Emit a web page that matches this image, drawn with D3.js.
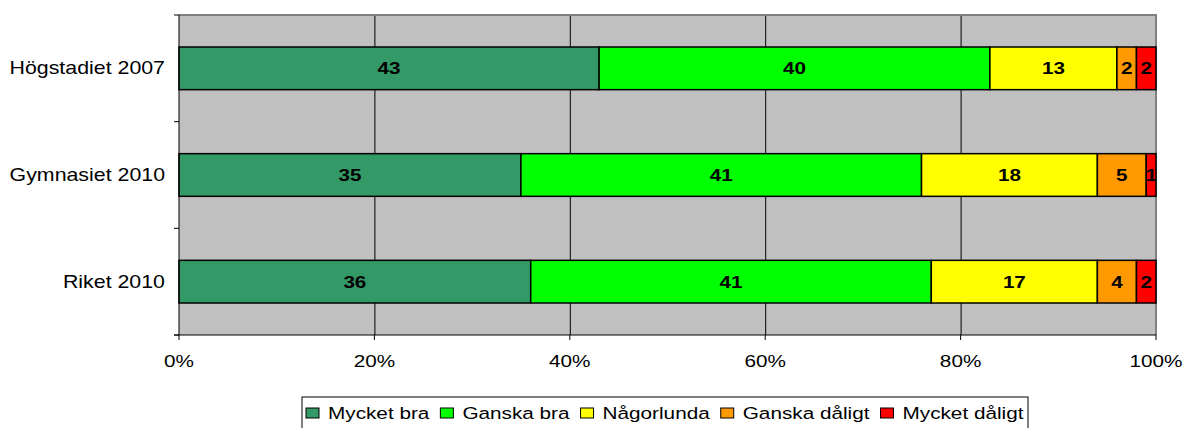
<!DOCTYPE html>
<html>
<head>
<meta charset="utf-8">
<script src="https://d3js.org/d3.v7.min.js"></script>
<style>
  body { margin: 0; background: #fff; }
  text { font-family: "Liberation Sans", Arial, sans-serif; }
</style>
</head>
<body>
<svg id="chart" width="1185" height="428"></svg>
<script>
const categories = ["Högstadiet 2007", "Gymnasiet 2010", "Riket 2010"];
const seriesNames = ["Mycket bra", "Ganska bra", "Någorlunda", "Ganska dåligt", "Mycket dåligt"];
const seriesColors = ["#339966", "#00ff00", "#ffff00", "#ff9900", "#ff0000"];
const mycketBra = [43, 35, 36];
const ganskaBra = [40, 41, 41];
const nagorlunda = [13, 18, 17];
const ganskaDaligt = [2, 5, 4];
const mycketDaligt = [2, 1, 2];
const xTicks = [0, 20, 40, 60, 80, 100];

const svg = d3.select("#chart");
const plotLeft = 179, plotRight = 1156, plotTop = 15, plotBottom = 335;
const sx = 1.22; // the original is stretched sideways

const x = d3.scaleLinear().domain([0, 100]).range([plotLeft, plotRight]);
const y = d3.scaleBand().domain(categories).range([plotTop, plotBottom]).paddingInner(0.6).paddingOuter(0.3);

function place(sel, px, py, k) {
  return sel.attr("transform", d => "translate(" + px(d) + "," + py(d) + ") scale(" + (k || sx) + ",1)");
}

// plot background
svg.append("rect")
  .attr("x", plotLeft).attr("y", plotTop)
  .attr("width", plotRight - plotLeft).attr("height", plotBottom - plotTop)
  .attr("fill", "#c0c0c0");

// gridlines
svg.append("g")
  .attr("transform", "translate(0," + plotTop + ")")
  .call(d3.axisBottom(x).tickValues(xTicks.slice(1, -1)).tickSize(plotBottom - plotTop).tickFormat(""))
  .call(g => g.select(".domain").remove())
  .selectAll("line").attr("stroke", "#000");

// border of plot area (grey, top and right)
svg.append("path")
  .attr("d", `M${plotLeft},${plotTop}H${plotRight}V${plotBottom}`)
  .attr("fill", "none").attr("stroke", "#808080").attr("stroke-width", 2);

// stacked data
const rows = categories.map((c, i) => {
  const vals = [mycketBra[i], ganskaBra[i], nagorlunda[i], ganskaDaligt[i], mycketDaligt[i]];
  let acc = 0;
  return vals.map((v, j) => {
    const seg = { cat: c, s: j, v: v, x0: acc, x1: acc + v };
    acc += v;
    return seg;
  });
}).flat();

svg.append("g").selectAll("rect").data(rows).join("rect")
  .attr("x", d => x(d.x0))
  .attr("y", d => y(d.cat))
  .attr("width", d => x(d.x1) - x(d.x0))
  .attr("height", y.bandwidth())
  .attr("fill", d => seriesColors[d.s])
  .attr("stroke", "#000").attr("stroke-width", 1.5);

svg.append("g").selectAll("text").data(rows).join("text")
  .call(place, d => (x(d.x0) + x(d.x1)) / 2, d => y(d.cat) + y.bandwidth() / 2 + 6, 1.25)
  .attr("text-anchor", "middle")
  .style("font-size", "16.5px").style("font-weight", "bold")
  .text(d => d.v);

// y axis
const yAxis = svg.append("g").attr("transform", "translate(" + plotLeft + ",0)");
yAxis.append("line").attr("x1", 0).attr("x2", 0).attr("y1", plotTop).attr("y2", plotBottom).attr("stroke", "#000");
const step = (plotBottom - plotTop) / categories.length;
d3.range(categories.length + 1).forEach(i => {
  yAxis.append("line").attr("x1", -5).attr("x2", 0)
    .attr("y1", plotTop + i * step).attr("y2", plotTop + i * step).attr("stroke", "#000");
});
yAxis.selectAll("text.cat").data(categories).join("text")
  .call(place, d => -14, d => y(d) + y.bandwidth() / 2 + 6)
  .attr("text-anchor", "end")
  .style("font-size", "17.5px")
  .text(d => d);

// x axis
const xAxis = svg.append("g").attr("transform", "translate(0," + plotBottom + ")");
xAxis.append("line").attr("x1", plotLeft - 5).attr("x2", plotRight).attr("stroke", "#000");
xAxis.selectAll("line.t").data(xTicks).join("line")
  .attr("x1", d => x(d)).attr("x2", d => x(d)).attr("y1", 0).attr("y2", 5).attr("stroke", "#000");
xAxis.selectAll("text").data(xTicks).join("text")
  .call(place, d => x(d), d => 32)
  .attr("text-anchor", "middle")
  .style("font-size", "17px")
  .text(d => d + "%");

// legend
const legend = svg.append("g");
legend.append("rect")
  .attr("x", 302).attr("y", 397).attr("width", 726).attr("height", 40)
  .attr("fill", "#fff").attr("stroke", "#000");
let lx = 306;
seriesNames.forEach((name, i) => {
  legend.append("rect")
    .attr("x", lx).attr("y", 408).attr("width", 13).attr("height", 10)
    .attr("fill", seriesColors[i]).attr("stroke", "#000");
  const t = legend.append("text")
    .datum(name)
    .call(place, d => lx + 22, d => 419)
    .style("font-size", "17px")
    .text(name);
  lx += 22 + t.node().getComputedTextLength() * sx + 11;
});
</script>
</body>
</html>
